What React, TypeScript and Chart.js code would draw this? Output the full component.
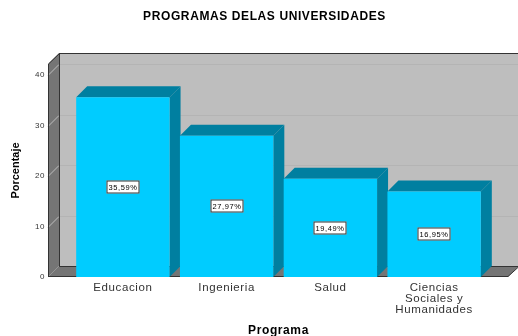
import React, { useEffect, useRef } from "react";
import { Chart, registerables } from "chart.js";

Chart.register(...registerables);

const categories = ["Educacion", "Ingenieria", "Salud", ["Ciencias", "Sociales y", "Humanidades"]];
const values = [35.59, 27.97, 19.49, 16.95];
const valueLabels = ["35,59%", "27,97%", "19,49%", "16,95%"];
const yTicks = [0, 10, 20, 30, 40];

const DEPTH = 11;
const FRONT = "#00CCFF";
const SHADE = "#007FA0";
const WALL = "#BEBEBE";
const DARKWALL = "#757575";
const LEFT_EXT = 23;
const RIGHT_EXT = 22;

function poly(ctx: CanvasRenderingContext2D, pts: number[][], fill: string) {
  ctx.beginPath();
  pts.forEach((p, i) => (i ? ctx.lineTo(p[0], p[1]) : ctx.moveTo(p[0], p[1])));
  ctx.closePath();
  ctx.fillStyle = fill;
  ctx.fill();
}

const titleShift = {
  id: "titleShift",
  afterLayout(chart: any) {
    chart.titleBlock.left = 11;
    chart.titleBlock.right = 518;
    const yScale = chart.scales.y;
    if (!yScale.__wrapped) {
      const orig = yScale.drawTitle.bind(yScale);
      yScale.drawTitle = (...args: any[]) => {
        chart.ctx.letterSpacing = "0px";
        orig(...args);
        chart.ctx.letterSpacing = "0.6px";
      };
      yScale.__wrapped = true;
    }
  },
  beforeDraw(chart: any) {
    chart.ctx.letterSpacing = "0.6px";
  },
};

const box3d = {
  id: "box3d",
  beforeDatasetsDraw(chart: any) {
    const { ctx, chartArea, scales } = chart;
    const y = scales.y;
    const l = chartArea.left - LEFT_EXT;
    const r = chartArea.right + RIGHT_EXT;
    const t = chartArea.top;
    const b = chartArea.bottom;
    const d = DEPTH;
    ctx.save();
    poly(ctx, [[l + d, t - d], [r + d, t - d], [r + d, b - d], [l + d, b - d]], WALL);
    poly(ctx, [[l, t], [l + d, t - d], [l + d, b - d], [l, b]], DARKWALL);
    poly(ctx, [[l, b], [l + d, b - d], [r + d, b - d], [r, b]], DARKWALL);
    ctx.lineWidth = 1;
    yTicks.slice(1).forEach((v) => {
      const py = Math.round(y.getPixelForValue(v)) + 0.5;
      ctx.strokeStyle = "#B4B4B4";
      ctx.beginPath();
      ctx.moveTo(l + d, py - d);
      ctx.lineTo(r + d, py - d);
      ctx.stroke();
      ctx.strokeStyle = "#BEBEBE";
      ctx.beginPath();
      ctx.moveTo(l, py);
      ctx.lineTo(l + d, py - d);
      ctx.stroke();
    });
    ctx.strokeStyle = "#333333";
    ctx.beginPath();
    ctx.moveTo(l + 0.5, b);
    ctx.lineTo(l + 0.5, t);
    ctx.lineTo(l + d + 0.5, t - d + 0.5);
    ctx.lineTo(r + d, t - d + 0.5);
    ctx.moveTo(l + d + 0.5, t - d);
    ctx.lineTo(l + d + 0.5, b - d + 0.5);
    ctx.lineTo(r + d, b - d + 0.5);
    ctx.lineTo(r, b - 0.5);
    ctx.lineTo(l, b - 0.5);
    ctx.stroke();
    chart.getDatasetMeta(0).data.forEach((bar: any) => {
      const p = bar.getProps(["x", "y", "base", "width"], true);
      const x0 = p.x - p.width / 2;
      const x1 = p.x + p.width / 2;
      poly(ctx, [[x0, p.y], [x0 + d, p.y - d], [x1 + d, p.y - d], [x1, p.y]], SHADE);
      poly(ctx, [[x1, p.y], [x1 + d, p.y - d], [x1 + d, p.base - d], [x1, p.base]], SHADE);
    });
    ctx.restore();
  },
};

const valueBoxes = {
  id: "valueBoxes",
  afterDatasetsDraw(chart: any) {
    const { ctx } = chart;
    ctx.save();
    ctx.font = "7.5px 'Liberation Sans'";
    ctx.textAlign = "center";
    ctx.textBaseline = "middle";
    chart.getDatasetMeta(0).data.forEach((bar: any, i: number) => {
      const p = bar.getProps(["x", "y", "base"], true);
      const cy = Math.round((p.y + p.base) / 2);
      const cx = Math.round(p.x);
      ctx.fillStyle = "#FFFFFF";
      ctx.fillRect(cx - 16.5, cy - 6.5, 33, 13);
      ctx.strokeStyle = "#333333";
      ctx.lineWidth = 1;
      ctx.strokeRect(cx - 16, cy - 6, 32, 12);
      ctx.fillStyle = "#000000";
      ctx.fillText(valueLabels[i], cx, cy + 0.5);
    });
    ctx.restore();
  },
};

export default function App() {
  const ref = useRef<HTMLCanvasElement>(null);
  useEffect(() => {
    document.body.style.margin = "0";
    const chart = new Chart(ref.current as HTMLCanvasElement, {
      type: "bar",
      data: {
        labels: categories as any,
        datasets: [
          {
            data: values,
            backgroundColor: FRONT,
            borderWidth: 0,
            barPercentage: 0.9,
            categoryPercentage: 1,
          },
        ],
      },
      plugins: [titleShift, box3d, valueBoxes],
      options: {
        animation: false,
        responsive: false,
        layout: { padding: { left: 0, right: 32, top: 0, bottom: 0 } },
        plugins: {
          legend: { display: false },
          tooltip: { enabled: false },
          title: {
            display: true,
            text: "PROGRAMAS DELAS UNIVERSIDADES",
            color: "#000000",
            font: { family: "'Liberation Sans'", size: 12, weight: "bold", lineHeight: 1 },
            padding: { top: 11, bottom: 41 },
          },
        },
        scales: {
          x: {
            grid: { display: false, drawTicks: false },
            border: { display: false },
            ticks: {
              color: "#333333",
              font: { family: "'Liberation Sans'", size: 11.5, lineHeight: 0.96 },
              padding: 5,
              maxRotation: 0,
              autoSkip: false,
            },
            title: {
              display: true,
              text: "Programa",
              color: "#000000",
              font: { family: "'Liberation Sans'", size: 12, weight: "bold", lineHeight: 1 },
              padding: { top: 0, bottom: -1 },
            },
            afterFit(s: any) {
              s.height = 59;
            },
          },
          y: {
            min: 0,
            max: 42.2,
            grid: { display: false, drawTicks: false },
            border: { display: false },
            afterBuildTicks(s: any) {
              s.ticks = yTicks.map((value) => ({ value }));
            },
            ticks: {
              color: "#333333",
              font: { family: "'Liberation Sans'", size: 8 },
              padding: 26,
            },
            title: {
              display: true,
              text: "Porcentaje",
              color: "#000000",
              font: { family: "'Liberation Sans'", size: 11, weight: "bold", lineHeight: 1 },
              padding: { top: 10, bottom: 0 },
            },
            afterFit(s: any) {
              s.width = 71;
            },
          },
        },
      } as any,
    });
    return () => chart.destroy();
  }, []);
  return <canvas ref={ref} width={518} height={336} style={{ display: "block" }} />;
}
